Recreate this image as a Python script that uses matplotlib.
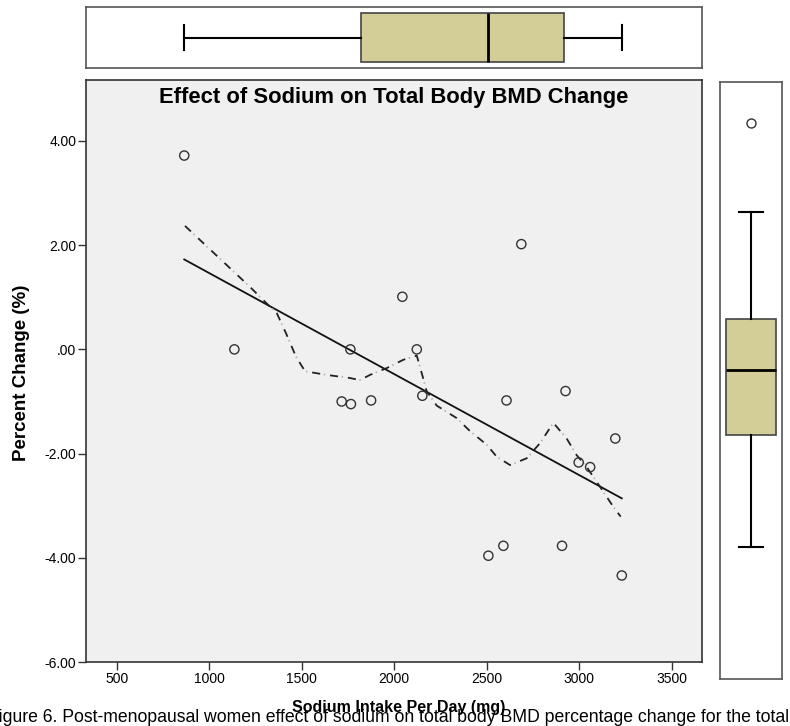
import numpy as np
import matplotlib
matplotlib.use("Agg")
import matplotlib.pyplot as plt
from matplotlib.ticker import FuncFormatter

plt.rcParams['font.family'] = ['Liberation Sans', 'DejaVu Sans']

# sodium intake (mg/day) vs total body BMD change (%)
sodium = [865, 1136, 1716, 1763, 1766, 1875, 2044, 2122, 2152, 2509,
          2590, 2607, 2687, 2907, 2926, 2997, 3059, 3195, 3230]
bmd_change = [3.72, 0.00, -1.00, 0.00, -1.05, -0.98, 1.01, 0.00, -0.89, -3.96,
              -3.77, -0.98, 2.02, -3.77, -0.80, -2.17, -2.26, -1.71, -4.34]

# loess curve as drawn in the chart (dash-dot line)
loess_x = [869, 1220, 1291, 1366, 1415, 1469, 1518, 1635, 1761, 1815, 1869,
           1959, 2049, 2122, 2149, 2176, 2230, 2338, 2410, 2500, 2554, 2626,
           2716, 2788, 2860, 2932, 2986, 3041, 3113, 3184, 3224]
loess_y = [2.37, 1.20, 0.95, 0.69, 0.31, -0.14, -0.42, -0.49, -0.55, -0.59, -0.49,
           -0.36, -0.20, -0.12, -0.46, -0.81, -1.08, -1.32, -1.57, -1.83, -2.06, -2.22,
           -2.09, -1.80, -1.41, -1.71, -2.03, -2.26, -2.64, -3.02, -3.21]

x_ticks = [500, 1000, 1500, 2000, 2500, 3000, 3500]
y_ticks = [-6, -4, -2, 0, 2, 4]

title = "Effect of Sodium on Total Body BMD Change"
xlabel = "Sodium Intake Per Day (mg)"
ylabel = "Percent Change (%)"
caption = "Figure 6. Post-menopausal women effect of sodium on total body BMD percentage change for the total"

W, H = 790, 726
fig = plt.figure(figsize=(W / 100, H / 100), dpi=100)

def px_axes(x0, y0, x1, y1):
    # rectangle given in pixel coords from top-left
    return fig.add_axes([x0 / W, 1 - y1 / H, (x1 - x0) / W, (y1 - y0) / H])

box_fill = '#d3ce98'
frame_col = '#555555'

ax = px_axes(86, 80, 701.7, 662)
ax.set_facecolor('#f0f0f0')
ax.scatter(sodium, bmd_change, s=44, facecolors='none', edgecolors='#333333',
           linewidths=1.0, zorder=3)

# linear fit
sx = np.array(sodium, dtype=float)
slope, icpt = np.polyfit(sx, np.array(bmd_change), 1)
xx = np.array([sx.min(), sx.max()])
ax.plot(xx, slope * xx + icpt, color='#111111', lw=1.3, zorder=2)

# loess: dark dashes with faint grey dots in between
ax.plot(loess_x, loess_y, color='#222222', lw=1.3,
        linestyle=(0, (4.5, 5.5)), zorder=2)
ax.plot(loess_x, loess_y, color='#b0b0b0', lw=1.3,
        linestyle=(-6.5, (0.8, 9.2)), zorder=2)

ax.set_xlim(334, 3662)
ax.set_ylim(-6, 5.17)
ax.set_xticks(x_ticks)
ax.set_yticks(y_ticks)

def spss_fmt(v, pos):
    s = "%.2f" % v
    if s in ("0.00", "-0.00"):
        s = ".00"
    return s

ax.yaxis.set_major_formatter(FuncFormatter(spss_fmt))
ax.tick_params(direction='out', length=6, width=1, color='#333333',
               labelsize=10, pad=1)
for sp in ax.spines.values():
    sp.set_color('#333333')
    sp.set_linewidth(1.2)

ax.text(0.5, 1 - 7 / 582, title, transform=ax.transAxes, ha='center', va='top',
        fontsize=15.8, fontweight='bold')

box_kw = dict(patch_artist=True, widths=0.8, capwidths=0.4,
              boxprops=dict(facecolor=box_fill, edgecolor='#444444', linewidth=1.2),
              medianprops=dict(color='black', linewidth=2),
              whiskerprops=dict(color='black', linewidth=1.5),
              capprops=dict(color='black', linewidth=1.5),
              flierprops=dict(marker='o', markerfacecolor='none',
                              markeredgecolor='#333333', markersize=6.5,
                              markeredgewidth=1.0))

# top marginal box (sodium)
axt = px_axes(86, 7, 701.7, 68)
axt.boxplot(sodium, vert=False, **box_kw)
axt.set_xlim(ax.get_xlim())
axt.set_ylim(0.5, 1.5)

# right marginal box (BMD change)
axr = px_axes(720, 82, 782, 679)
axr.boxplot(bmd_change, vert=True, **box_kw)
axr.set_xlim(0.5, 1.5)
axr.set_ylim(-6.85, 4.5)

for a in (axt, axr):
    a.set_xticks([])
    a.set_yticks([])
    a.set_facecolor('white')
    for sp in a.spines.values():
        sp.set_color(frame_col)
        sp.set_linewidth(1.2)

fig.text(22 / W, 1 - 373 / H, ylabel, rotation=90, ha='center', va='center',
         fontsize=13.5, fontweight='bold')
fig.text(399 / W, 1 - 712 / H, xlabel, ha='center', va='baseline',
         fontsize=11.5, fontweight='bold')
fig.text(789 / W, 1 - 722 / H, caption, ha='right', va='baseline', fontsize=12.7)

fig.savefig("out.png", dpi=100)
